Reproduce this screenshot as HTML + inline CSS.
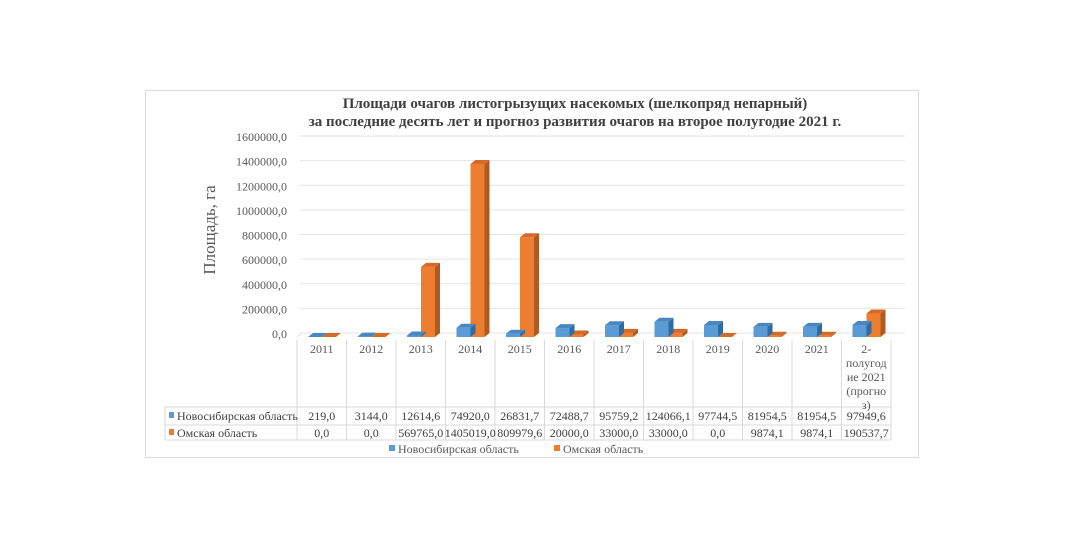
<!DOCTYPE html>
<html><head><meta charset="utf-8"><style>
body{margin:0;background:#fff;}
svg{display:block;font-family:"Liberation Serif",serif;}
</style></head><body>
<svg width="1074" height="554" viewBox="0 0 1074 554">
<rect x="145.5" y="90.5" width="773" height="367" fill="#fff" stroke="#d9d9d9"/>
<text x="575" y="108" text-anchor="middle" font-size="15" font-weight="bold" fill="#404040">Площади очагов листогрызущих насекомых (шелкопряд непарный)</text>
<text x="575" y="126" text-anchor="middle" font-size="15" font-weight="bold" fill="#404040">за последние десять лет и прогноз развития очагов на второе полугодие 2021 г.</text>
<text transform="translate(215,230) rotate(-90)" text-anchor="middle" font-size="17" fill="#595959">Площадь, га</text>
<g id="grid"></g><g id="ticks"></g><g id="bars"></g><g id="table"></g>
<g>
<rect x="389" y="445" width="6" height="6" fill="#5b9bd5"/>
<text x="398" y="453" font-size="12" fill="#595959">Новосибирская область</text>
<rect x="554" y="445" width="6" height="6" fill="#ed7d31"/>
<text x="563" y="453" font-size="12" fill="#595959">Омская область</text>
</g>
</svg>
<script>
const categories=["2011","2012","2013","2014","2015","2016","2017","2018","2019","2020","2021","2-полугодие 2021 (прогноз)"];
const novosibirsk=[219.0,3144.0,12614.6,74920.0,26831.7,72488.7,95759.2,124066.1,97744.5,81954.5,81954.5,97949.6];
const omsk=[0.0,0.0,569765.0,1405019.0,809979.6,20000.0,33000.0,33000.0,0.0,9874.1,9874.1,190537.7];
const tickValues=[0,200000,400000,600000,800000,1000000,1200000,1400000,1600000];
const labelsNovo=["219,0","3144,0","12614,6","74920,0","26831,7","72488,7","95759,2","124066,1","97744,5","81954,5","81954,5","97949,6"];
const labelsOmsk=["0,0","0,0","569765,0","1405019,0","809979,6","20000,0","33000,0","33000,0","0,0","9874,1","9874,1","190537,7"];
const NS="http://www.w3.org/2000/svg";
const yMax=1600000, base=337, H=197, dx=5, dy=4;
const x0=297, colW=49.5;
function y(v){return base - v/yMax*H;}
function colX(i){return x0+i*colW;}
function mk(tag,attrs,parent){const e=document.createElementNS(NS,tag);for(const k in attrs)e.setAttribute(k,attrs[k]);parent.appendChild(e);return e;}
const grid=document.getElementById('grid'),ticks=document.getElementById('ticks'),bars=document.getElementById('bars'),tbl=document.getElementById('table');
tickValues.forEach(v=>{
  const l=mk('line',{x1:300,x2:905,y1:y(v)-dy,y2:y(v)-dy,stroke:'#e4e4e4','stroke-width':1},grid);
  
  
  const t=mk('text',{x:287,y:y(v)+1,'text-anchor':'end','font-size':12,fill:'#595959'},ticks);
  
  
  t.textContent=v.toFixed(1).replace('.',',');
});
mk('line',{x1:x0,x2:x0+dx,y1:base,y2:base-dy,stroke:'#e4e4e4'},grid);
function bar(x,w,v,front,side,top,name){
  const yt=y(v);
  const g=mk('g',{},bars);
  
  
  mk('rect',{x:x,y:yt,width:w,height:base-yt,fill:front},g);
  mk('polygon',{points:`${x+w},${yt} ${x+w+dx},${yt-dy} ${x+w+dx},${base-dy} ${x+w},${base}`,fill:side},g);
  mk('polygon',{points:`${x},${yt} ${x+dx},${yt-dy} ${x+w+dx},${yt-dy} ${x+w},${yt}`,fill:top},g);
}
categories.forEach((c,i)=>{
  const cx=colX(i);
  bar(cx+11,14,omsk[i]>=0?0:0,'#5b9bd5','#41719c','#4f87ba','unused');
});
bars.innerHTML='';
categories.forEach((c,i)=>{
  const cx=colX(i);
  bar(cx+25,14,omsk[i],'#ed7d31','#ae5a21','#d46a25','bar-omsk-'+i);
  bar(cx+11,14,novosibirsk[i],'#5b9bd5','#2e6da4','#4a86c0','bar-novosibirsk-'+i);
});
// table
const rowTop=340,hdrB=407,r1B=425,r2B=440,left=165,right=x0+12*colW;
[[x0,rowTop,x0,r2B]].forEach(a=>mk('line',{x1:a[0],y1:a[1],x2:a[2],y2:a[3],stroke:'#d9d9d9'},tbl));
for(let i=1;i<=12;i++) mk('line',{x1:colX(i),y1:rowTop,x2:colX(i),y2:r2B,stroke:'#d9d9d9'},tbl);
[hdrB,r1B,r2B].forEach(yy=>mk('line',{x1:left,y1:yy,x2:right,y2:yy,stroke:'#d9d9d9'},tbl));
mk('line',{x1:left,y1:hdrB,x2:left,y2:r2B,stroke:'#d9d9d9'},tbl);
categories.forEach((c,i)=>{
  const cx=colX(i)+colW/2;
  const lines=i<11?[c]:["2-","полугод","ие 2021","(прогно","з)"];
  lines.forEach((s,k)=>{
    const t=mk('text',{x:cx,y:353+k*14,'text-anchor':'middle','font-size':12,fill:'#595959'},tbl);
    
    
    t.textContent=s;
  });
  const a=mk('text',{x:cx,y:420,'text-anchor':'middle','font-size':12,fill:'#404040'},tbl);
  
  
  a.textContent=labelsNovo[i];
  const b=mk('text',{x:cx,y:437,'text-anchor':'middle','font-size':12,fill:'#404040'},tbl);
  
  
  b.textContent=labelsOmsk[i];
});
mk('rect',{x:169,y:412,width:5,height:6,fill:'#5b9bd5'},tbl);
mk('rect',{x:169,y:429,width:5,height:6,fill:'#ed7d31'},tbl);
const n1=mk('text',{x:177,y:420,'font-size':12,fill:'#404040'},tbl);


n1.textContent='Новосибирская область';
const n2=mk('text',{x:177,y:437,'font-size':12,fill:'#404040'},tbl);


n2.textContent='Омская область';
</script>
</body></html>
